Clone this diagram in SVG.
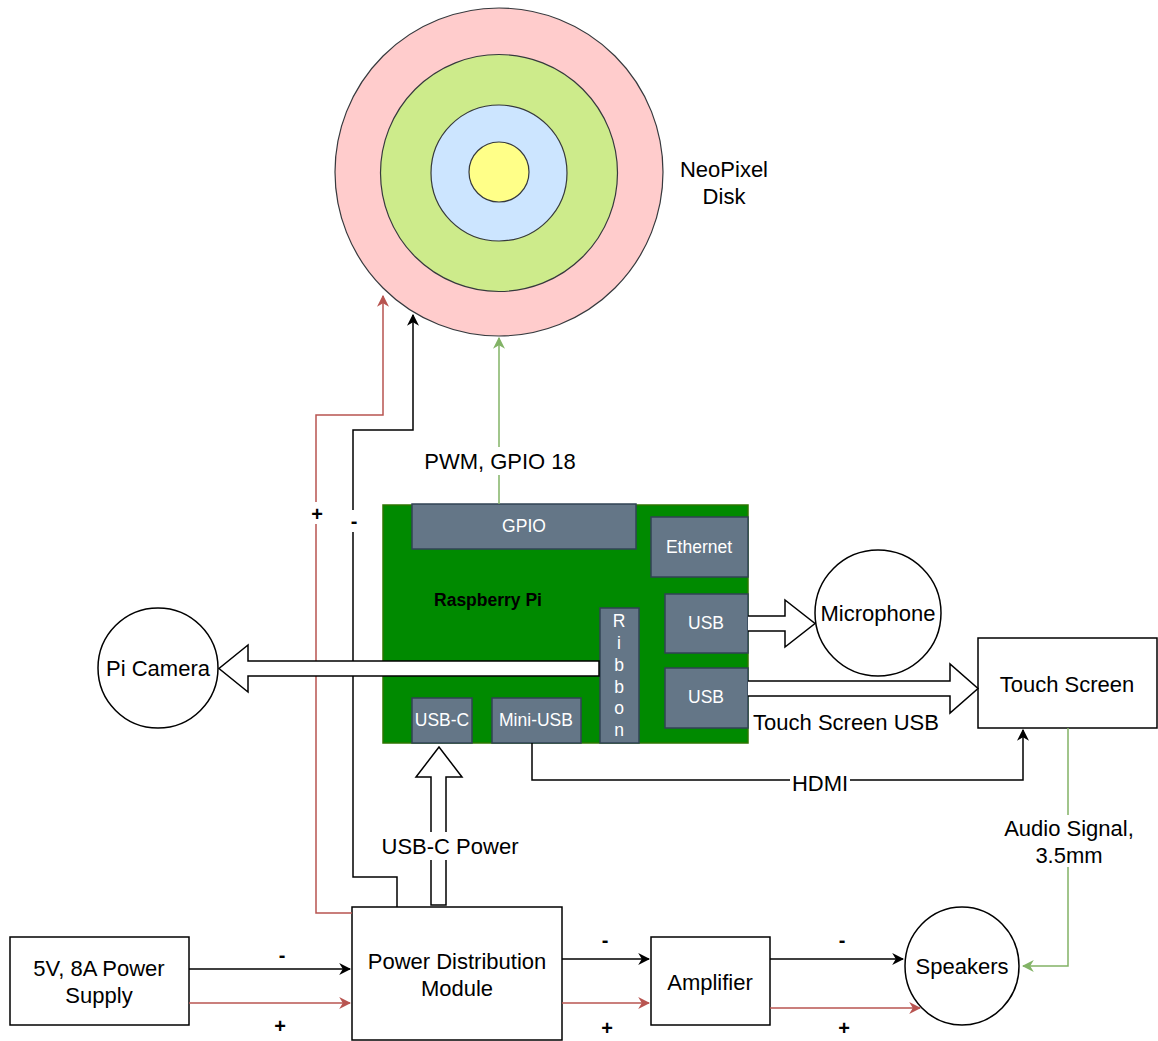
<svg xmlns="http://www.w3.org/2000/svg" width="1158" height="1041" viewBox="0 0 1158 1041">
<defs>
<style>
text{font-family:"Liberation Sans",Arial,sans-serif;fill:#000}
.t20{font-size:22px}
.t16{font-size:17.5px}
.w{fill:#fff}
.sign{font-size:20px;font-weight:bold}
.node{fill:#fff;stroke:#000;stroke-width:1.5}
.port{fill:#647687;stroke:#314354;stroke-width:1.5}
.ring{stroke:#36393d;stroke-width:1.2}
.blk{fill:none;stroke:#000;stroke-width:1.5}
.red{fill:none;stroke:#b85450;stroke-width:1.5}
.grn{fill:none;stroke:#82b366;stroke-width:1.5}
.flat{fill:#fff;stroke:#000;stroke-width:1.5}
</style>
<marker id="ab" viewBox="0 0 10 10" refX="9" refY="5" markerWidth="12" markerHeight="12" markerUnits="userSpaceOnUse" orient="auto"><path d="M0,0 L10,5 L0,10 L3,5 z" fill="#000"/></marker>
<marker id="ar" viewBox="0 0 10 10" refX="9" refY="5" markerWidth="12" markerHeight="12" markerUnits="userSpaceOnUse" orient="auto"><path d="M0,0 L10,5 L0,10 L3,5 z" fill="#b85450"/></marker>
<marker id="ag" viewBox="0 0 10 10" refX="9" refY="5" markerWidth="12" markerHeight="12" markerUnits="userSpaceOnUse" orient="auto"><path d="M0,0 L10,5 L0,10 L3,5 z" fill="#82b366"/></marker>
</defs>
<rect width="1158" height="1041" fill="#fff"/>

<g id="neopixel">
<circle class="ring" cx="499" cy="172" r="164" fill="#ffcccc"/>
<circle class="ring" cx="499" cy="173" r="118.5" fill="#cdeb8b"/>
<circle class="ring" cx="499" cy="173" r="68" fill="#cce5ff"/>
<circle class="ring" cx="499" cy="172" r="30" fill="#ffff88"/>
<text class="t20" x="724" y="177" text-anchor="middle">NeoPixel</text>
<text class="t20" x="724" y="204" text-anchor="middle">Disk</text>
</g>

<g id="raspberry-pi">
<rect x="383" y="505" width="365" height="238" fill="#008a00" stroke="#2d7600" stroke-width="1.5"/>
<text x="488" y="606" text-anchor="middle" style="font-size:17.5px;font-weight:bold">Raspberry Pi</text>
<g id="gpio"><rect class="port" x="412" y="504" width="224" height="45"/><text class="t16 w" x="524" y="532" text-anchor="middle">GPIO</text></g>
<g id="ethernet"><rect class="port" x="651" y="517" width="97" height="60"/><text class="t16 w" x="699" y="553" text-anchor="middle">Ethernet</text></g>
<g id="usb1"><rect class="port" x="665" y="594" width="83" height="59"/><text class="t16 w" x="706" y="629" text-anchor="middle">USB</text></g>
<g id="usb2"><rect class="port" x="665" y="668" width="83" height="60"/><text class="t16 w" x="706" y="703" text-anchor="middle">USB</text></g>
<g id="ribbon"><rect class="port" x="600" y="608" width="39" height="135"/>
<text class="t16 w" text-anchor="middle"><tspan x="619" y="627">R</tspan><tspan x="619" y="649">i</tspan><tspan x="619" y="671">b</tspan><tspan x="619" y="693">b</tspan><tspan x="619" y="714">o</tspan><tspan x="619" y="736">n</tspan></text></g>
<g id="usbc"><rect class="port" x="412" y="698" width="60" height="45"/><text class="t16 w" x="442" y="726" text-anchor="middle">USB-C</text></g>
<g id="miniusb"><rect class="port" x="492" y="698" width="89" height="45"/><text class="t16 w" x="536" y="726" text-anchor="middle">Mini-USB</text></g>
</g>

<g id="pi-camera">
<circle class="node" cx="158" cy="668" r="60"/>
<text class="t20" x="158" y="676" text-anchor="middle">Pi Camera</text>
</g>

<g id="microphone">
<circle class="node" cx="878" cy="613" r="63"/>
<text class="t20" x="878" y="621" text-anchor="middle">Microphone</text>
</g>

<g id="touch-screen">
<rect class="node" x="978" y="638" width="179" height="90"/>
<text class="t20" x="1067" y="692" text-anchor="middle">Touch Screen</text>
</g>

<g id="power-supply">
<rect class="node" x="10" y="937" width="179" height="88"/>
<text class="t20" x="99" y="976" text-anchor="middle">5V, 8A Power</text>
<text class="t20" x="99" y="1003" text-anchor="middle">Supply</text>
</g>

<g id="pdm">
<rect class="node" x="352" y="907" width="210" height="133"/>
<text class="t20" x="457" y="969" text-anchor="middle">Power Distribution</text>
<text class="t20" x="457" y="996" text-anchor="middle">Module</text>
</g>

<g id="amplifier">
<rect class="node" x="651" y="937" width="119" height="88"/>
<text class="t20" x="710" y="990" text-anchor="middle">Amplifier</text>
</g>

<g id="speakers">
<ellipse class="node" cx="962" cy="966" rx="57" ry="59"/>
<text class="t20" x="962" y="974" text-anchor="middle">Speakers</text>
</g>

<g id="connectors">
<path class="red" d="M352,913 H316 V415 H383 V296" marker-end="url(#ar)"/>
<path class="blk" d="M397,907 V877 H353 V430 H413 V315" marker-end="url(#ab)"/>
<rect x="308" y="502" width="18" height="22" fill="#fff"/>
<text class="sign" x="317" y="521" text-anchor="middle">+</text>
<rect x="346" y="510" width="14" height="22" fill="#fff"/>
<text class="sign" x="354" y="528" text-anchor="middle">-</text>

<path class="grn" d="M499,504 V338" marker-end="url(#ag)"/>
<rect x="418" y="447" width="164" height="28" fill="#fff"/>
<text class="t20" x="500" y="469" text-anchor="middle">PWM, GPIO 18</text>

<path class="flat" d="M599,661 H248 V645 L219,668.5 L248,692 V676 H599 Z"/>

<path class="flat" d="M748,616 H785 V600 L815,623.5 L785,647 V631 H748"/>

<path class="flat" d="M748,681 H950 V664 L978,688.5 L950,713 V696 H748"/>
<text class="t20" x="846" y="730" text-anchor="middle">Touch Screen USB</text>

<path class="blk" d="M532,743 V780 H1023 V730" marker-end="url(#ab)"/>
<rect x="790" y="769" width="60" height="24" fill="#fff"/>
<text class="t20" x="820" y="791" text-anchor="middle">HDMI</text>

<path class="flat" d="M431,905 V777 H416 L439,747 L462,777 H446 V905 Z"/>
<rect x="376" y="832" width="148" height="28" fill="#fff"/>
<text class="t20" x="450" y="854" text-anchor="middle">USB-C Power</text>

<path class="grn" d="M1068,728 V966 H1023" marker-end="url(#ag)"/>
<rect x="1000" y="815" width="138" height="52" fill="#fff"/>
<text class="t20" x="1069" y="836" text-anchor="middle">Audio Signal,</text>
<text class="t20" x="1069" y="863" text-anchor="middle">3.5mm</text>

<path class="blk" d="M189,969 H350" marker-end="url(#ab)"/>
<path class="red" d="M189,1003 H350" marker-end="url(#ar)"/>
<text class="sign" x="282" y="962" text-anchor="middle">-</text>
<text class="sign" x="280" y="1033" text-anchor="middle">+</text>

<path class="blk" d="M562,959 H649" marker-end="url(#ab)"/>
<path class="red" d="M562,1003 H649" marker-end="url(#ar)"/>
<text class="sign" x="605" y="947" text-anchor="middle">-</text>
<text class="sign" x="607" y="1035" text-anchor="middle">+</text>

<path class="blk" d="M770,959 H903" marker-end="url(#ab)"/>
<path class="red" d="M770,1008 H920" marker-end="url(#ar)"/>
<text class="sign" x="842" y="947" text-anchor="middle">-</text>
<text class="sign" x="844" y="1035" text-anchor="middle">+</text>
</g>
</svg>
